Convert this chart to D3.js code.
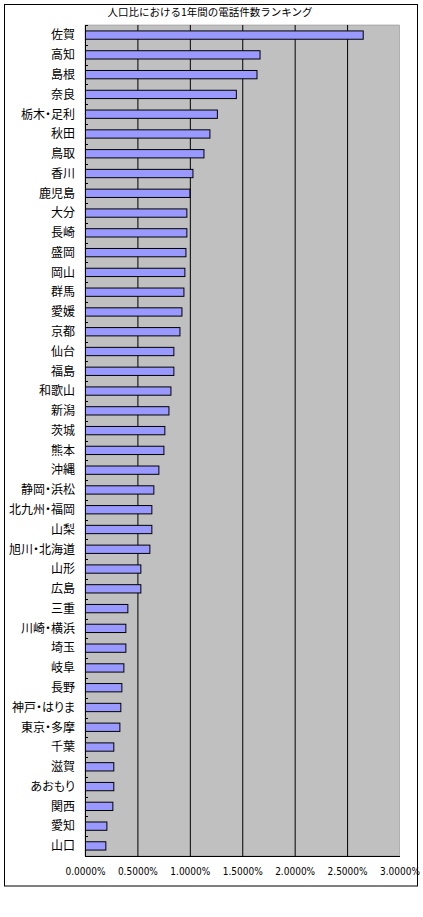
<!DOCTYPE html>
<html>
<head>
<meta charset="utf-8">
<script src="https://cdn.jsdelivr.net/npm/d3@7"></script>
<style>
  body { margin: 0; background: #fff; }
  text { font-family: "Noto Sans CJK JP", "Noto Sans", sans-serif; fill: #000; }
  .lbl { font-feature-settings: "palt"; }
</style>
</head>
<body>
<svg id="chart" width="423" height="917"></svg>
<script>
let title = "人口比における1年間の電話件数ランキング"

let areas = ["佐賀", "高知", "島根", "奈良", "栃木・足利", "秋田", "鳥取", "香川", "鹿児島", "大分",
  "長崎", "盛岡", "岡山", "群馬", "愛媛", "京都", "仙台", "福島", "和歌山", "新潟",
  "茨城", "熊本", "沖縄", "静岡・浜松", "北九州・福岡", "山梨", "旭川・北海道", "山形", "広島", "三重",
  "川崎・横浜", "埼玉", "岐阜", "長野", "神戸・はりま", "東京・多摩", "千葉", "滋賀", "あおもり", "関西",
  "愛知", "山口"]

// percent of population
let rates = [2.649, 1.665, 1.636, 1.439, 1.258, 1.187, 1.130, 1.025, 0.996, 0.967,
  0.967, 0.958, 0.948, 0.939, 0.920, 0.901, 0.843, 0.843, 0.815, 0.796,
  0.757, 0.748, 0.700, 0.652, 0.633, 0.633, 0.614, 0.528, 0.528, 0.404,
  0.385, 0.385, 0.366, 0.347, 0.337, 0.328, 0.270, 0.270, 0.270, 0.261,
  0.204, 0.194]

let xTicks = [0, 0.5, 1.0, 1.5, 2.0, 2.5, 3.0]

let svg = d3.select("#chart")

let plotLeft = 85, plotRight = 399.5, plotTop = 25, plotBottom = 856

let x = d3.scaleLinear().domain([0, 3]).range([plotLeft, plotRight])
let y = d3.scaleBand().domain(areas).range([plotTop, plotBottom]).paddingInner(0.58).paddingOuter(0.3)

// outer frame
svg.append("rect")
  .attr("x", 4.5).attr("y", 4.5)
  .attr("width", 413).attr("height", 881.5)
  .attr("fill", "#fff").attr("stroke", "#000").attr("stroke-width", 1)

svg.append("text")
  .attr("x", 210).attr("y", 16)
  .attr("text-anchor", "middle")
  .style("font-size", "10.5px")
  .text(title)

// plot area
svg.append("rect")
  .attr("x", plotLeft).attr("y", plotTop)
  .attr("width", plotRight - plotLeft).attr("height", plotBottom - plotTop)
  .attr("fill", "#c0c0c0").attr("stroke", "#808080").attr("stroke-width", 0.5)

svg.selectAll(".grid")
  .data(xTicks.slice(1, -1))
  .enter()
  .append("line")
  .attr("class", "grid")
  .attr("x1", d => x(d) + 0.5).attr("x2", d => x(d) + 0.5)
  .attr("y1", plotTop).attr("y2", plotBottom)
  .attr("stroke", "#000").attr("stroke-width", 1)

svg.selectAll(".bar")
  .data(rates.map((r, i) => ({ area: areas[i], rate: r })))
  .enter()
  .append("rect")
  .attr("class", "bar")
  .attr("x", x(0) + 0.5)
  .attr("y", d => y(d.area))
  .attr("width", d => x(d.rate) - x(0))
  .attr("height", y.bandwidth())
  .attr("fill", "#9999ff")
  .attr("stroke", "#000").attr("stroke-width", 1)

// category axis
let yAxis = svg.append("g")
yAxis.append("line")
  .attr("x1", plotLeft + 0.5).attr("x2", plotLeft + 0.5)
  .attr("y1", plotTop).attr("y2", plotBottom)
  .attr("stroke", "#000")
yAxis.selectAll(".tk")
  .data(d3.range(areas.length + 1))
  .enter()
  .append("line")
  .attr("x1", plotLeft).attr("x2", plotLeft + 3)
  .attr("y1", i => Math.round(plotTop + i * (plotBottom - plotTop) / areas.length) + 0.5)
  .attr("y2", i => Math.round(plotTop + i * (plotBottom - plotTop) / areas.length) + 0.5)
  .attr("stroke", "#000")
yAxis.selectAll(".lbl")
  .data(areas)
  .enter()
  .append("text")
  .attr("class", "lbl")
  .attr("x", 75)
  .attr("y", d => y(d) + y.bandwidth() / 2)
  .attr("dy", "0.36em")
  .attr("text-anchor", "end")
  .style("font-size", "12px")
  .text(d => d)

// value axis
let xAxis = d3.axisBottom(x)
  .tickValues(xTicks)
  .tickSize(0)
  .tickPadding(12)
  .tickFormat(d => d.toFixed(4) + "%")

let gx = svg.append("g")
  .attr("transform", `translate(0,${plotBottom})`)
  .call(xAxis)
gx.select(".domain").attr("stroke", "#000")
gx.selectAll("text")
  .style("font-size", "10px")
  .style("font-family", "'Liberation Sans Narrow', 'DejaVu Sans Condensed', sans-serif")
</script>
</body>
</html>
